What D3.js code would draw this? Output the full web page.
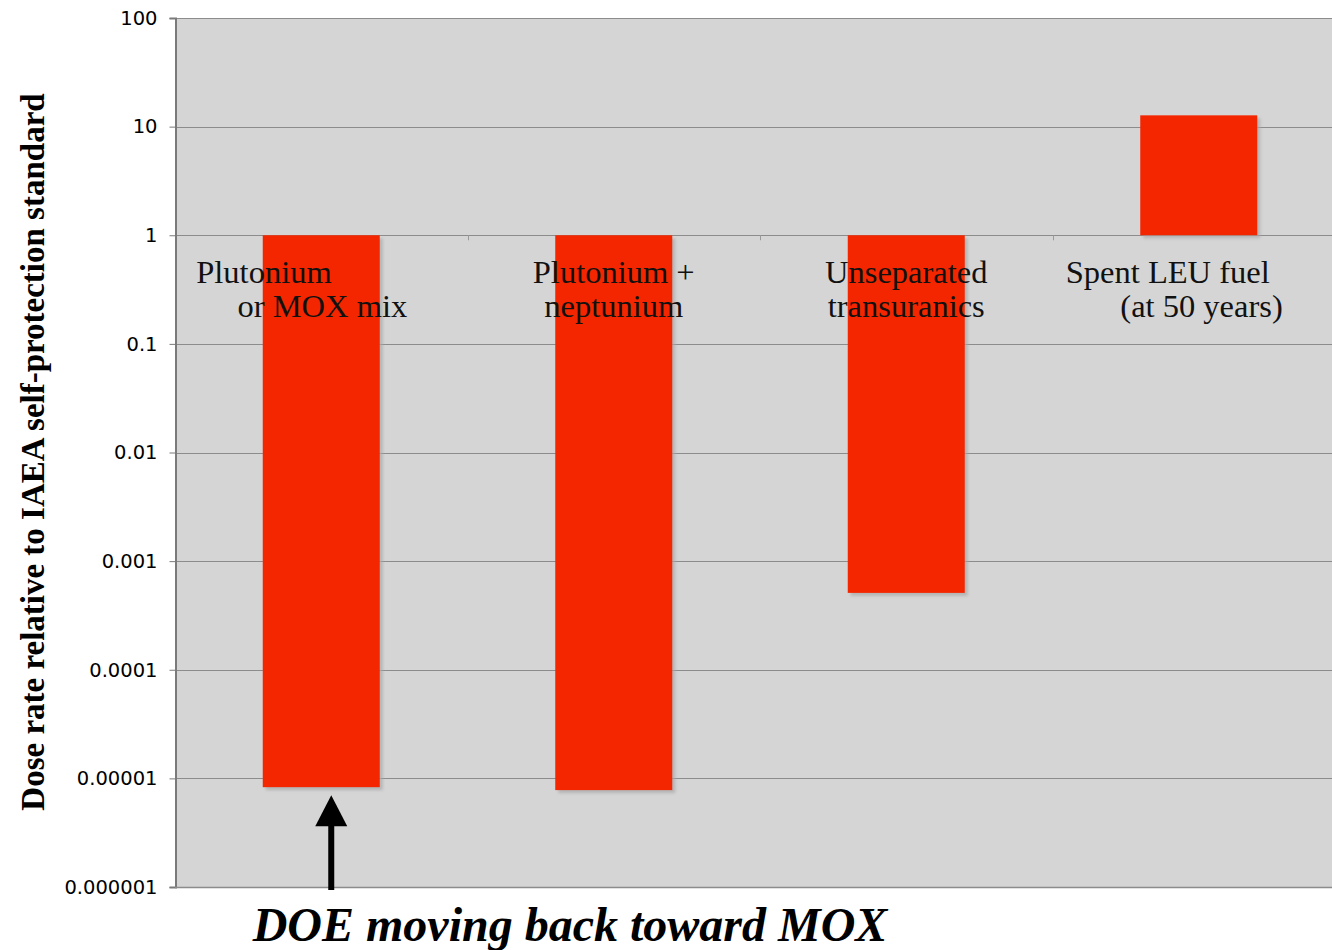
<!DOCTYPE html>
<html><head><meta charset="utf-8">
<script src="https://cdn.jsdelivr.net/npm/d3@7"></script>
<style>body{margin:0;background:#fff;}svg{display:block;}</style>
</head><body>
<svg id="c" width="1332" height="950"></svg>
<script>
const categories = ["Plutonium or MOX mix", "Plutonium + neptunium", "Unseparated transuranics", "Spent LEU fuel (at 50 years)"];
const labelLines = [["Plutonium", "or MOX mix"], ["Plutonium +", "neptunium"], ["Unseparated", "transuranics"], ["Spent LEU fuel", "(at 50 years)"]];
const baseValue = 1;
const values = [0.0000083, 0.0000078, 0.00051, 12.7];
const tickValues = [100, 10, 1, 0.1, 0.01, 0.001, 0.0001, 0.00001, 0.000001];
const tickLabels = ["100", "10", "1", "0.1", "0.01", "0.001", "0.0001", "0.00001", "0.000001"];
const yTitle = "Dose rate relative to IAEA self-protection standard";
const annotation = "DOE moving back toward MOX";

(function () {
const svg = d3.select("#c");
const pLeft = 175, pRight = 1345, pTop = 18, pBottom = 887;
const serif = "'Liberation Serif', 'Times New Roman', serif";

const x = d3.scaleBand().domain(categories).range([pLeft, pRight]).paddingInner(0.6).paddingOuter(0.3);
const y = d3.scaleLog().domain([0.000001, 100]).range([pBottom, pTop]);

const defs = svg.append("defs");
const f = defs.append("filter").attr("id","sh").attr("x","-10%").attr("y","-10%").attr("width","130%").attr("height","130%");
f.append("feGaussianBlur").attr("stdDeviation", 1.5);

// plot background
svg.append("rect").attr("x", pLeft).attr("y", pTop).attr("width", 1332 - pLeft).attr("height", pBottom - pTop).attr("fill", "#d5d5d5");

// gridlines
svg.append("g").selectAll("line").data(tickValues).join("line")
  .attr("x1", pLeft).attr("x2", 1332).attr("y1", d => Math.round(y(d)) + 0.5).attr("y2", d => Math.round(y(d)) + 0.5)
  .attr("stroke", "#8c8c8c").attr("stroke-width", 1);

// bar shadows
svg.append("g").selectAll("rect").data(values).join("rect")
  .attr("x", (d, i) => x(categories[i]) + 3)
  .attr("y", d => Math.min(y(d), y(baseValue)) + 3)
  .attr("width", x.bandwidth())
  .attr("height", d => Math.abs(y(d) - y(baseValue)))
  .attr("fill", "#a8a8a8").attr("opacity", 0.7).attr("filter", "url(#sh)");

// bars
svg.append("g").selectAll("rect").data(values).join("rect")
  .attr("x", (d, i) => x(categories[i]))
  .attr("y", d => Math.min(y(d), y(baseValue)))
  .attr("width", x.bandwidth())
  .attr("height", d => Math.abs(y(d) - y(baseValue)))
  .attr("fill", "#f42600");

// category ticks on the x axis (crossing at 1)
const bounds = categories.slice(1).map(c => x(c) - x.step() * x.paddingInner() / 2);
svg.append("g").selectAll("line").data(bounds).join("line")
  .attr("x1", d => Math.round(d) + 0.5).attr("x2", d => Math.round(d) + 0.5)
  .attr("y1", y(baseValue)).attr("y2", y(baseValue) + 5)
  .attr("stroke", "#9a9a9a");

// y axis
const yAxis = d3.axisLeft(y).tickValues(tickValues).tickFormat((d, i) => tickLabels[i]).tickSize(6).tickPadding(12);
const ga = svg.append("g").attr("transform", `translate(${pLeft + 0.5},0)`).call(yAxis);
ga.select(".domain").attr("stroke", "#7a7a7a").attr("stroke-width", 2);
ga.selectAll(".tick line").attr("stroke", "#7a7a7a");
ga.selectAll(".tick text").attr("font-family", "'DejaVu Sans', Verdana, sans-serif").attr("font-size", 19.5).attr("fill", "#000");

// bottom axis line
svg.append("line").attr("x1", pLeft).attr("x2", 1332).attr("y1", pBottom + 0.5).attr("y2", pBottom + 0.5).attr("stroke", "#8c8c8c").attr("stroke-width", 1.5);

// category labels
const lab = svg.append("g").attr("font-family", serif).attr("font-size", 32.5).attr("fill", "#111");
labelLines.forEach((lines, i) => {
  const cx = x(categories[i]) + x.bandwidth() / 2;
  const y1 = y(baseValue) + 48, y2 = y(baseValue) + 82;
  if (i === 0 || i === 3) {
    lab.append("text").attr("x", cx - (i === 0 ? 125 : 133)).attr("y", y1).attr("text-anchor", "start").text(lines[0]);
    lab.append("text").attr("x", cx + (i === 0 ? 86 : 84)).attr("y", y2).attr("text-anchor", "end").text(lines[1]);
  } else {
    lab.append("text").attr("x", cx).attr("y", y1).attr("text-anchor", "middle").text(lines[0]);
    lab.append("text").attr("x", cx).attr("y", y2).attr("text-anchor", "middle").text(lines[1]);
  }
});

// y title
svg.append("text").attr("transform", `translate(44,452) rotate(-90)`)
  .attr("text-anchor", "middle").attr("font-family", serif)
  .attr("font-weight", "bold").attr("font-size", 33).text(yTitle);

// arrow
const ax = x(categories[0]) + x.bandwidth() / 2 + 10;
const tipY = y(values[0]) + 8;
svg.append("line").attr("x1", ax).attr("x2", ax).attr("y1", tipY + 28).attr("y2", pBottom + 3).attr("stroke", "#000").attr("stroke-width", 6);
svg.append("path").attr("d", `M${ax},${tipY} L${ax - 16},${tipY + 31} L${ax + 16},${tipY + 31} Z`).attr("fill", "#000");

// annotation
svg.append("text").attr("x", 570).attr("y", 941).attr("text-anchor", "middle")
  .attr("font-family", serif).attr("font-weight", "bold").attr("font-style", "italic")
  .attr("font-size", 48).text(annotation);
})();
</script>
</body></html>
